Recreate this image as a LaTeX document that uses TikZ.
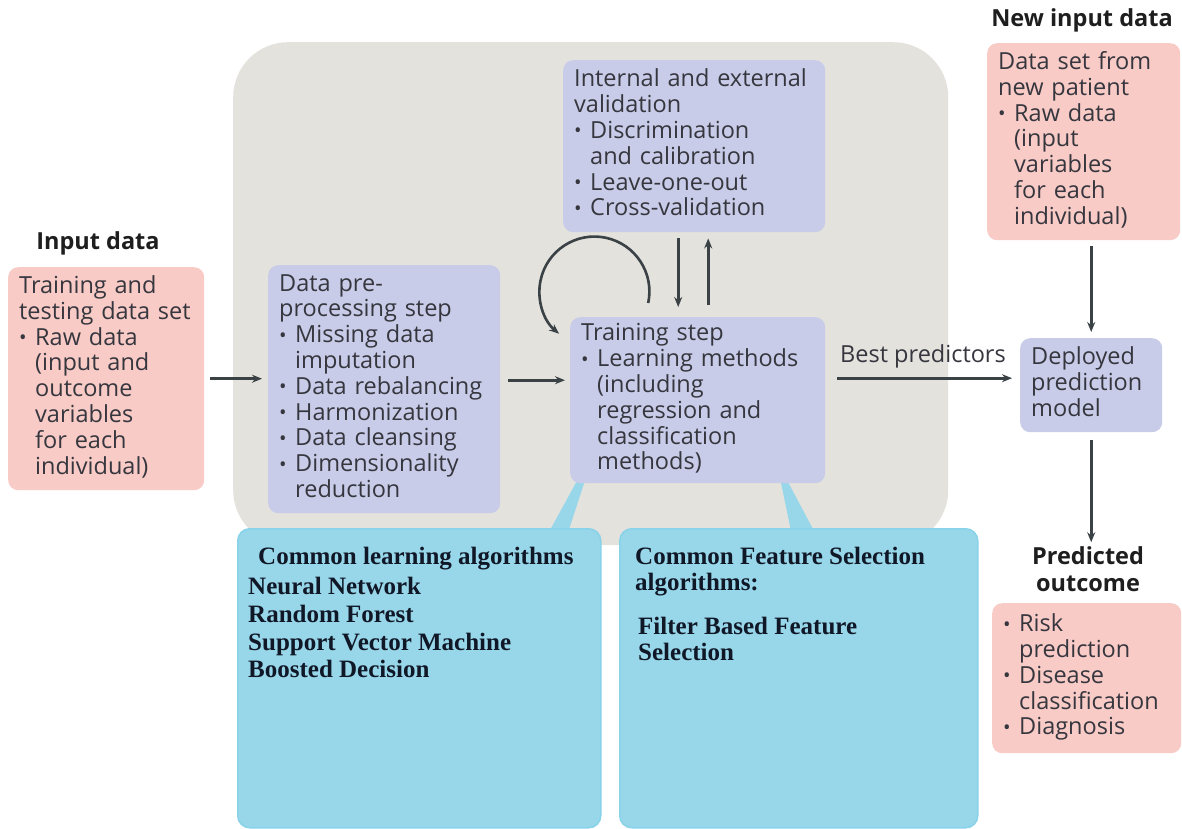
\documentclass[tikz,border=0pt]{standalone}
\usepackage{fontspec}
\setmainfont{Open Sans}
\newfontfamily\algfont{Liberation Serif}
\usetikzlibrary{arrows.meta,calc,backgrounds}

\definecolor{stagegray}{HTML}{E4E2DD}
\definecolor{pinkfill}{HTML}{F8CBC6}
\definecolor{lavfill}{HTML}{C9CCE8}
\definecolor{cyanfill}{HTML}{98D7E9}
\definecolor{cyanedge}{HTML}{88D2EA}
\definecolor{bodytext}{HTML}{36363E}
\definecolor{headtext}{HTML}{1E1E1E}
\definecolor{algtext}{HTML}{101828}
\definecolor{arrowc}{HTML}{3A4246}

\newcommand\bodysize{\fontsize{23.5}{25.8}\selectfont}
\newcommand\itm{\makebox[16pt][l]{\raisebox{0.02em}{\fontsize{20}{20}\selectfont\textbullet}}}
\newcommand\ind{\hspace*{16pt}}
\newcommand\rows[1]{\begin{tabular}{@{}l@{}}#1\end{tabular}}

\begin{document}
\begin{tikzpicture}[
  x=1pt, y=1pt,
  box/.style={rounded corners=10pt, inner xsep=11pt, inner ysep=0pt, align=left,
              anchor=north west, text=bodytext, font=\bodysize},
  pinkbox/.style={box, fill=pinkfill},
  lavbox/.style={box, fill=lavfill},
  head/.style={font=\fontsize{23.5}{26}\selectfont\bfseries, text=headtext, align=center, inner sep=0},
  lbl/.style={font=\bodysize, text=bodytext, inner sep=0},
  cyanbox/.style={fill=cyanfill, draw=cyanedge, line width=1.5pt, rounded corners=12pt,
                  anchor=north west, inner sep=0},
  algline/.style={font=\algfont\bfseries\fontsize{25}{27}\selectfont, text=algtext,
                  anchor=base west, inner sep=0},
  arr/.style={draw=arrowc, line width=2.6pt, -{Stealth[length=10pt,width=8pt]}}
]
\useasboundingbox (0,0) rectangle (1182,-829);

% page and model building stage
\begin{scope}[on background layer]
  \fill[white] (0,0) rectangle (1182,-829);
  \node[fill=stagegray, rounded corners=55pt, minimum width=715, minimum height=503,
        anchor=north west, inner sep=0] (stage) at (233,-42) {};
\end{scope}

% input data
\node[head] (inlbl) at (98,-243) {Input data};
\node[pinkbox, minimum width=196, minimum height=223, text width=174] (inbox) at (8,-267)
  {\rows{Training and\\ testing data set\\ \itm Raw data\\ \ind(input and\\ \ind outcome\\ \ind variables\\ \ind for each\\ \ind individual)}};

% pre-processing
\node[lavbox, minimum width=232, minimum height=248, text width=210] (pre) at (268,-265)
  {\rows{Data pre-\\ processing step\\ \itm Missing data\\ \ind imputation\\ \itm Data rebalancing\\ \itm Harmonization\\ \itm Data cleansing\\ \itm Dimensionality\\ \ind reduction}};

% validation
\node[lavbox, minimum width=262, minimum height=172, text width=240] (val) at (563,-60)
  {\rows{Internal and external\\ validation\\ \itm Discrimination\\ \ind and calibration\\ \itm Leave-one-out\\ \itm Cross-validation}};

% training
\node[lavbox, minimum width=255, minimum height=166, text width=233] (train) at (570,-317)
  {\rows{Training step\\ \itm Learning methods\\ \ind(including\\ \ind regression and\\ \ind classification\\ \ind methods)}};

% new input data
\node[head] (newlbl) at (1082,-20) {New input data};
\node[pinkbox, minimum width=193, minimum height=197, text width=171] (newbox) at (987,-43)
  {\rows{Data set from\\ new patient\\ \itm Raw data\\ \ind(input\\ \ind variables\\ \ind for each\\ \ind individual)}};

% deployed model
\node[lavbox, minimum width=142, minimum height=94, text width=120] (deploy) at (1020,-338)
  {\rows{Deployed\\ prediction\\ model}};

% predicted outcome
\node[head] (predlbl) at (1088,-569) {Predicted\\[1pt] outcome};
\node[pinkbox, minimum width=189, minimum height=150, text width=167] (pred) at (992,-603)
  {\rows{\itm Risk\\ \ind prediction\\ \itm Disease\\ \ind classification\\ \itm Diagnosis}};

% algorithm panels
\node[cyanbox, minimum width=363, minimum height=299] (algbox) at (237,-528) {};
\node[cyanbox, minimum width=358, minimum height=299] (selbox) at (619,-528) {};

\node[algline] (alghead) at (258,-564) {Common learning algorithms};
\foreach \t [count=\i] in {Neural Network, Random Forest, Support Vector Machine, Boosted Decision}
  \node[algline] (alg\i) at (248,-567-27.7*\i) {\t};

\node[algline] (selhead1) at (635,-564) {Common Feature Selection};
\node[algline] (selhead2) at (635,-590) {algorithms:};
\node[algline] (sel1) at (638,-634) {Filter Based Feature};
\node[algline] (sel2) at (638,-660) {Selection};

% callout wedges from the training step
\begin{scope}[on background layer]
  \fill[cyanfill] ($(train.south)+(-121,2)$) -- ($(train.south)+(-113,2)$)
     -- ($(algbox.north east)+(-33,-3)$) -- ($(algbox.north east)+(-52,-3)$) -- cycle;
  \fill[cyanfill] ($(train.south)+(83,2)$) -- ($(train.south)+(90,2)$)
     -- ($(selbox.north west)+(195,-3)$) -- ($(selbox.north west)+(172,-3)$) -- cycle;
\end{scope}

% connectors
\draw[arr] ($(inbox.east)+(6,0)$) -- ($(inbox.east -| pre.west)+(-6,0)$);
\draw[arr] ($(pre.east)+(8,9)$) -- ($(pre.east -| train.west)+(-5,9)$);
\draw[arr] ($(val.south)+(-16,-6)$) -- ($(val.south |- train.north)+(-16,10)$);
\draw[arr] ($(val.south |- train.north)+(14,12)$) -- ($(val.south)+(14,-6)$);
\draw[arr] ($(train.north)+(-49.5,14)$) arc[start angle=-12, end angle=230, radius=55];
\draw[arr] ($(train.east |- deploy.west)+(12,7)$) -- ($(deploy.west)+(-8,7)$);
\node[lbl] (bestlbl) at (923,-356) {Best predictors};
\draw[arr] ($(deploy.north |- newbox.south)+(0,-6)$) -- ($(deploy.north)+(0,6)$);
\draw[arr] ($(deploy.south)+(0,-8)$) -- ($(deploy.south |- predlbl.north)+(0,4)$);
\end{tikzpicture}
\end{document}
